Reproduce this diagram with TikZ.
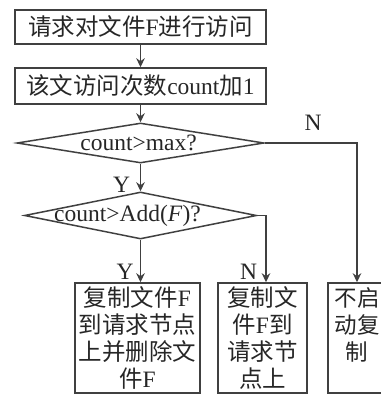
\documentclass[tikz,border=0pt]{standalone}
\usepackage{fontspec}
\setmainfont{Liberation Serif}
\newfontfamily\cjk{Noto Sans CJK SC}
\usetikzlibrary{shapes.geometric,arrows.meta}
\begin{document}
\begin{tikzpicture}[x=1pt,y=-1pt,
  every node/.style={font=\fontsize{23.5}{27}\selectfont, text=black!85},
  box/.style={draw=black!75, line width=1.5pt, inner sep=0pt, align=center},
  decision/.style={draw=black!75, line width=1.5pt, diamond, inner sep=0pt},
  conn/.style={draw=black!75, line width=1.5pt},
  arr/.style={conn, -{Stealth[length=9pt,width=8.5pt]}},
  lbl/.style={inner sep=0pt}]
\useasboundingbox (0,0) rectangle (380,396);
\node[box, minimum width=251pt, minimum height=34pt] (b1) at (140.5,27) {{\cjk 请求对文件}F{\cjk 进行访问}};
\node[box, minimum width=251pt, minimum height=36pt] (b2) at (140.5,86) {{\cjk 该文访问次数}count{\cjk 加}1};
\node[decision, minimum width=247pt, minimum height=40pt] (d1) at (140.5,143) {};
\node[lbl] (t1) at (138.5,143) {count>max?};
\node[decision, minimum width=232pt, minimum height=47pt] (d2) at (140.5,215.5) {};
\node[lbl] (t2) at (127.5,216) {count>Add(\textit{F})?};
\node[box, minimum width=125pt, minimum height=110pt] (bY) at (137.5,338) {\cjk 复制文件{\rmfamily F}\\\cjk 到请求节点\\\cjk 上并删除文\\\cjk 件{\rmfamily F}};
\node[box, minimum width=89pt, minimum height=110pt] (bN) at (262.5,338) {\cjk 复制文\\\cjk 件{\rmfamily F}到\\\cjk 请求节\\\cjk 点上};
\node[box, minimum width=58pt, minimum height=110pt, font=\fontsize{22.5}{27}\selectfont] (b3) at (357,338) {\cjk 不启\\\cjk 动复\\\cjk 制\\~};
\draw[arr] (b1) -- (b2);
\draw[arr] (b2) -- (d1);
\draw[arr] (d1.south) -- (d2.north);
\draw[arr] (d1.east) -| (b3.north);
\draw[arr] (d2.south) -- (d2.south |- bY.north);
\draw[arr] (d2.east) -| ([xshift=3.5pt]bN.north);
\node[lbl] (y1) at (121.5,185) {Y};
\node[lbl] (n1) at (313,123) {N};
\node[lbl] (y2) at (125,272) {Y};
\node[lbl] (n2) at (248.5,272) {N};
\end{tikzpicture}
\end{document}
